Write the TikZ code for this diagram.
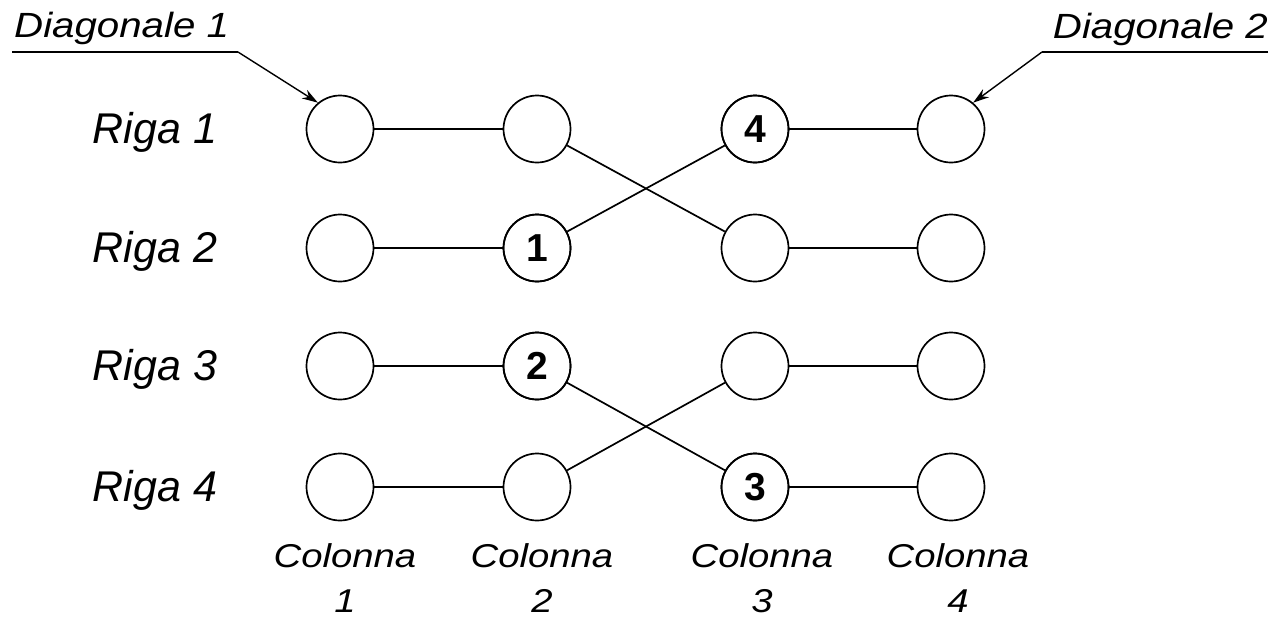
\documentclass[tikz,border=0pt]{standalone}
\usepackage{fontspec}
\setmainfont{Liberation Sans}
\usetikzlibrary{arrows.meta}
\tikzset{
  dot/.style={circle,draw,line width=1.7pt,minimum size=67pt,inner sep=0pt,font=\fontsize{39}{44}\selectfont\bfseries},
  link/.style={line width=1.7pt},
  rowlbl/.style={font=\fontsize{43}{50}\selectfont\itshape,anchor=base,inner sep=0pt},
  collbl/.style={font=\fontsize{33}{40}\selectfont\itshape,anchor=base,inner sep=0pt,xscale=1.16},
  diaglbl/.style={font=\fontsize{35}{40}\selectfont\itshape,inner sep=0pt,xscale=1.15},
  pointer/.style={line width=1.4pt,-{Stealth[length=16pt,width=10pt]}}
}
\begin{document}
\begin{tikzpicture}[x=1pt,y=-1pt]
\useasboundingbox (0,0) rectangle (1285,619);
% circles
\foreach \c/\x in {1/340,2/537,3/755,4/951}{
  \foreach \r/\y in {1/129,2/248,3/366,4/487}{
    \node[dot] (n\c\r) at (\x,\y) {};
  }
}
\node[dot] at (n22) {1};
\node[dot] at (n23) {2};
\node[dot] at (n34) {3};
\node[dot] at (n31) {4};
% horizontal links
\draw[link] (n11) -- (n21);
\draw[link] (n31) -- (n41);
\draw[link] (n12) -- (n22);
\draw[link] (n32) -- (n42);
\draw[link] (n13) -- (n23);
\draw[link] (n33) -- (n43);
\draw[link] (n14) -- (n24);
\draw[link] (n34) -- (n44);
% crossing links
\draw[link] (n21) -- (n32);
\draw[link] (n22) -- (n31);
\draw[link] (n23) -- (n34);
\draw[link] (n24) -- (n33);
% row labels
\node[rowlbl] (r1) at (155,143) {Riga 1};
\node[rowlbl] (r2) at (155,262) {Riga 2};
\node[rowlbl] (r3) at (155,380) {Riga 3};
\node[rowlbl] (r4) at (155,501) {Riga 4};
% column labels
\foreach \c/\x in {1/345,2/542,3/762,4/958}{
  \node[collbl] (c\c) at (\x,567) {Colonna};
  \node[collbl] (d\c) at (\x,612) {\c};
}
% diagonals
\node[diaglbl,anchor=base west] (dg1) at (14,37) {Diagonale 1};
\node[diaglbl,anchor=base east] (dg2) at (1268,38) {Diagonale 2};
\coordinate (u1a) at (12,52);
\coordinate (u1b) at (238,52);
\coordinate (u2a) at (1268,52);
\coordinate (u2b) at (1042,52);
\draw[line width=1.4pt] (u1a) -- (u1b);
\draw[pointer] (u1b) -- (n11.130);
\draw[line width=1.4pt] (u2a) -- (u2b);
\draw[pointer] (u2b) -- (n41.50);
\end{tikzpicture}
\end{document}
